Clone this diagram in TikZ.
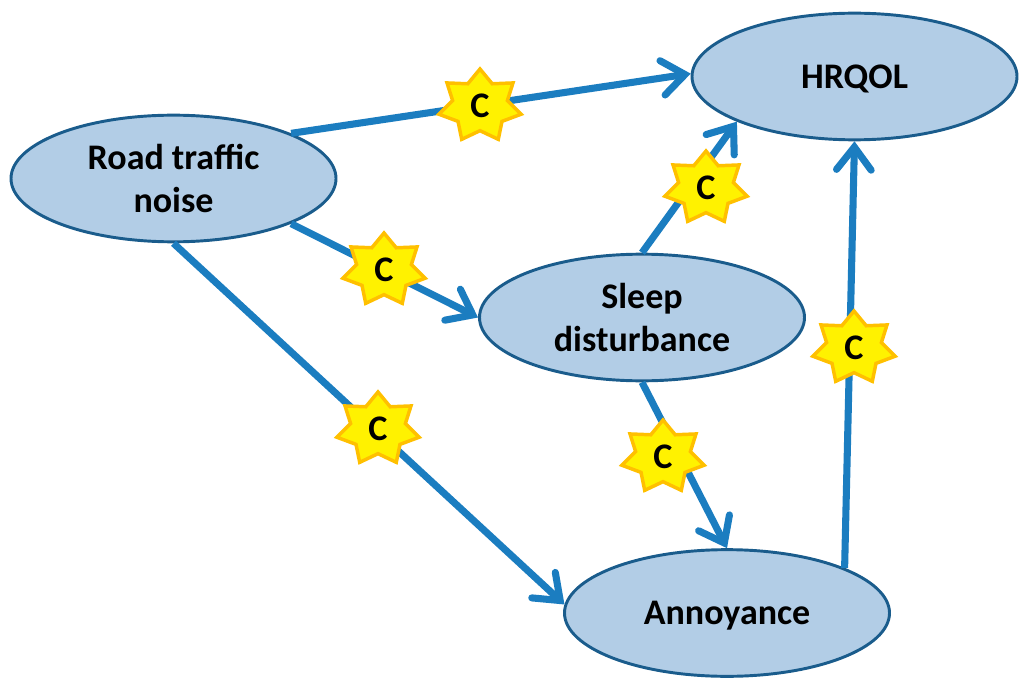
\documentclass[tikz,border=0pt]{standalone}
\usepackage{fontspec}
\setmainfont{Carlito}
\usetikzlibrary{arrows.meta,shapes.geometric}
\definecolor{ellfill}{RGB}{178,205,230}
\definecolor{ellline}{RGB}{26,92,140}
\definecolor{arrline}{RGB}{27,125,192}
\definecolor{staredge}{RGB}{255,192,0}
\tikzset{
  every picture/.style={line width=0.75pt},
  factor/.style={draw=ellline,fill=ellfill,ellipse,line width=2.2pt,inner sep=0pt,
    minimum width=243.75pt,minimum height=95pt,align=center,
    font=\fontsize{27}{32.5}\selectfont\bfseries},
  link/.style={draw=arrline,line width=5.3pt,
    -{Straight Barb[length=17pt,width=26pt,line cap=round]}},
  conf/.style={star,star points=7,star point ratio=1.5,draw=staredge,fill=yellow,
    line width=2.6pt,inner sep=0pt,minimum size=55.5pt,xscale=1.14,
    font=\fontsize{27}{27}\selectfont\bfseries},
}
\begin{document}
\begin{tikzpicture}[x=0.75pt,y=0.75pt,yscale=-1,xscale=1]
\useasboundingbox (0,0) rectangle (1024,688);

\node [factor] (road) at (173.5,178.5) {Road traffic\\noise};
\node [factor,text depth=0pt] (hrqol) at (854.5,76.5) {HRQOL};
\node [factor] (sleep) at (642,317.5) {Sleep\\disturbance};
\node [factor,text depth=0pt] (annoy) at (727,613) {Annoyance};

\draw [link] (road.21.7) -- (hrqol.179);
\draw [link] (road.-21.7) -- (sleep.west);
\draw [link] (road.south) -- (annoy.177.5);
\draw [link] (sleep.north) -- (hrqol.201.3);
\draw [link] (sleep.south) -- (annoy.north);
\draw [link] (annoy.21.8) -- (hrqol.south);

\node [conf] (c1) at (480,106) {\scalebox{0.88}[1]{C}};
\node [conf] (c2) at (384,270) {\scalebox{0.88}[1]{C}};
\node [conf] (c3) at (378,429) {\scalebox{0.88}[1]{C}};
\node [conf] (c4) at (706,188) {\scalebox{0.88}[1]{C}};
\node [conf] (c5) at (663,457) {\scalebox{0.88}[1]{C}};
\node [conf] (c6) at (854,348) {\scalebox{0.88}[1]{C}};

\end{tikzpicture}
\end{document}
